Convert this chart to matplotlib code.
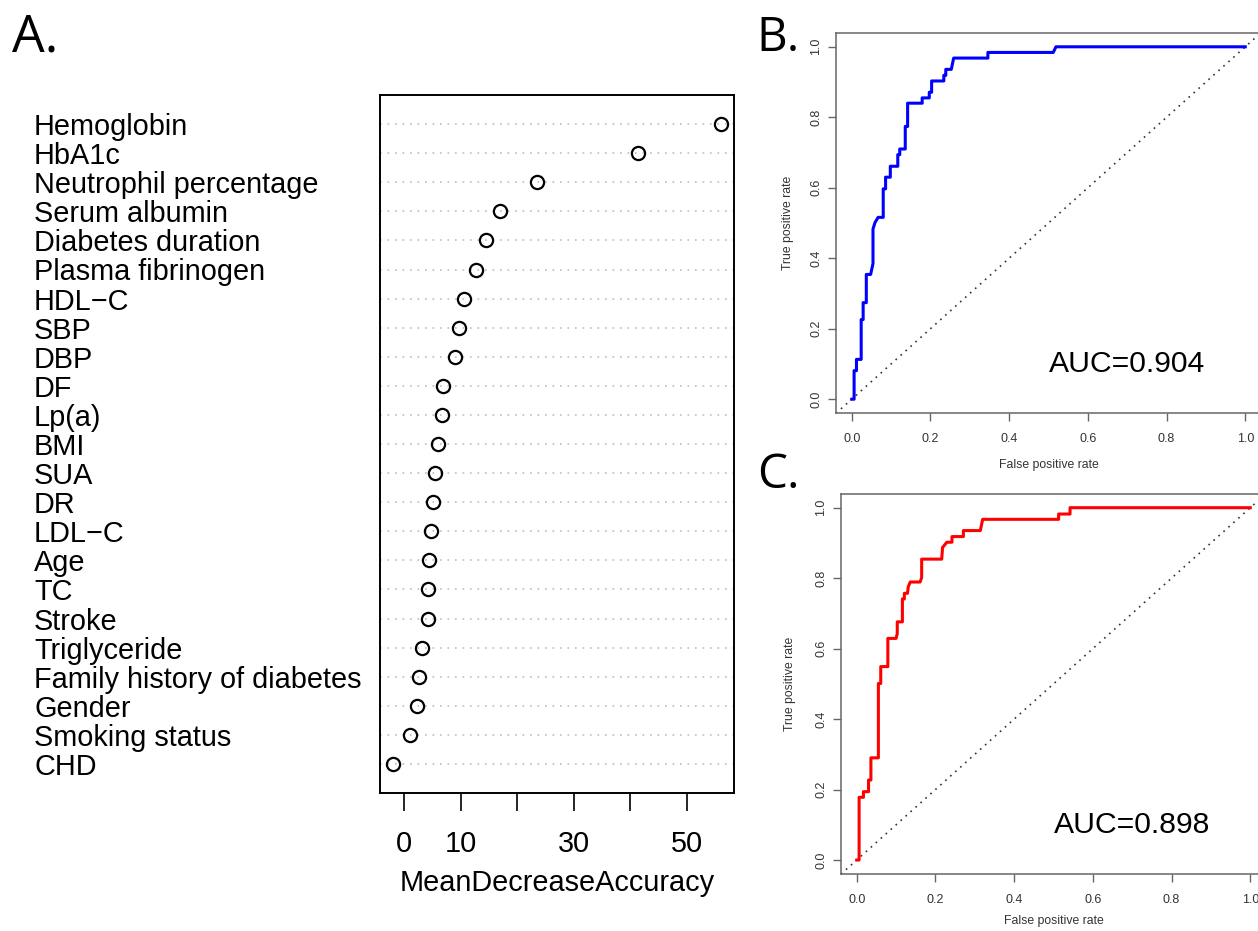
import matplotlib.pyplot as plt
import numpy as np

# ---- data ----
features = ["Hemoglobin", "HbA1c", "Neutrophil percentage", "Serum albumin",
            "Diabetes duration", "Plasma fibrinogen", "HDL\u2212C", "SBP", "DBP",
            "DF", "Lp(a)", "BMI", "SUA", "DR", "LDL\u2212C", "Age", "TC", "Stroke",
            "Triglyceride", "Family history of diabetes", "Gender",
            "Smoking status", "CHD"]
mda = [56.0, 41.4, 23.4, 16.9, 14.5, 12.6, 10.6, 9.6, 9.0,
       6.85, 6.7, 5.9, 5.4, 5.1, 4.7, 4.4, 4.25, 4.1,
       3.1, 2.5, 2.25, 0.95, -2.0]
mda_ticks = [0, 10, 20, 30, 40, 50]
mda_ticklabels = ["0", "10", "", "30", "", "50"]

# ROC curve vertices, panel B (training)
fpr_b = [0, 0.006, 0.006, 0.012, 0.012, 0.024, 0.024, 0.029, 0.029, 0.037, 0.037,
         0.048, 0.054, 0.054, 0.059, 0.067, 0.080, 0.080, 0.086, 0.086, 0.098, 0.098,
         0.117, 0.117, 0.122, 0.122, 0.136, 0.136, 0.142, 0.142, 0.179, 0.179, 0.197,
         0.197, 0.203, 0.203, 0.234, 0.234, 0.239, 0.239, 0.253, 0.259, 0.346, 0.346,
         0.512, 0.519, 1.0]
tpr_b = [0, 0, 0.081, 0.081, 0.113, 0.113, 0.226, 0.226, 0.274, 0.274, 0.354,
         0.354, 0.385, 0.483, 0.501, 0.516, 0.516, 0.597, 0.597, 0.630, 0.630, 0.661,
         0.661, 0.694, 0.694, 0.710, 0.710, 0.774, 0.774, 0.840, 0.840, 0.855, 0.855,
         0.871, 0.871, 0.903, 0.903, 0.919, 0.919, 0.936, 0.936, 0.968, 0.968, 0.984,
         0.984, 1.0, 1.0]
auc_b = "AUC=0.904"

# ROC curve vertices, panel C (validation)
fpr_c = [0, 0.006, 0.006, 0.017, 0.017, 0.030, 0.030, 0.036, 0.036, 0.055, 0.055,
         0.061, 0.061, 0.079, 0.079, 0.100, 0.103, 0.103, 0.116, 0.116, 0.121, 0.121,
         0.129, 0.131, 0.136, 0.161, 0.165, 0.165, 0.216, 0.218, 0.229, 0.242, 0.242,
         0.271, 0.271, 0.314, 0.320, 0.513, 0.513, 0.542, 0.542, 1.0]
tpr_c = [0, 0, 0.178, 0.178, 0.194, 0.194, 0.227, 0.227, 0.290, 0.290, 0.501,
         0.501, 0.549, 0.549, 0.629, 0.629, 0.643, 0.676, 0.676, 0.741, 0.741, 0.757,
         0.757, 0.776, 0.789, 0.789, 0.802, 0.854, 0.854, 0.887, 0.902, 0.902, 0.918,
         0.918, 0.935, 0.935, 0.967, 0.967, 0.982, 0.982, 1.0, 1.0]
auc_c = "AUC=0.898"

roc_ticks = [0.0, 0.2, 0.4, 0.6, 0.8, 1.0]

plt.rcParams['font.family'] = 'Liberation Sans'

W, H = 1258, 931
fig = plt.figure(figsize=(W / 100, H / 100), dpi=100)


def px_axes(left, top, right, bottom):
    return fig.add_axes([left / W, 1 - bottom / H, (right - left) / W, (bottom - top) / H])


# ---- A: dotchart ----
ax = px_axes(380, 95, 734.3, 793)
n = len(features)
rows = np.arange(n, 0, -1)
for r in rows:
    ax.axhline(r, color='#bebebe', lw=1.2, ls=(0, (1, 3.5)), zorder=1)
ax.plot(mda, rows, 'o', ms=9.5, mfc='none', mec='black', mew=1.6, zorder=3)
ax.set_xlim(-4.32, 58.37)
ax.set_ylim(0, n + 1)
ax.set_yticks(rows, labels=features, fontsize=20.8, ha='left')
ax.tick_params(axis='y', length=0, pad=346 * 0.72)
ax.set_xticks(mda_ticks, labels=mda_ticklabels, fontsize=20.8)
ax.tick_params(axis='x', length=13, width=1.2, pad=14)
ax.set_xlabel("MeanDecreaseAccuracy", fontsize=20.8)
ax.xaxis.set_label_coords(0.5, -0.129)
ax.xaxis.label.set_va('center')
for s in ax.spines.values():
    s.set_linewidth(1.4)

fig.text(12 / W, 1 - 51.7 / H, "A.", family='Open Sans', fontsize=37.3, va='baseline')


# ---- B and C: ROC curves ----
def roc_panel(axr, fpr, tpr, color, auc, xlab_y, ylab_x):
    axr.plot([-0.04, 1.04], [-0.04, 1.04], color='#333333', lw=1.2, ls=(0, (1, 3)))
    axr.plot(fpr, tpr, color=color, lw=2.2)
    axr.set_xlim(-0.04, 1.04)
    axr.set_ylim(-0.04, 1.04)
    axr.set_xticks(roc_ticks, labels=[f"{t:.1f}" for t in roc_ticks])
    axr.set_yticks(roc_ticks, labels=[f"{t:.1f}" for t in roc_ticks])
    for lab in axr.get_yticklabels():
        lab.set_rotation(90)
        lab.set_va('center')
    axr.tick_params(length=6, width=1, color='#666666', labelsize=9,
                    labelcolor='#333333')
    axr.tick_params(axis='x', pad=8)
    axr.tick_params(axis='y', pad=4)
    for s in axr.spines.values():
        s.set_color('#666666')
        s.set_linewidth(1.1)
    axr.set_xlabel("False positive rate", fontsize=8.8, color='#333333')
    axr.set_ylabel("True positive rate", fontsize=8.8, color='#333333')
    axr.xaxis.set_label_coords(0.5, xlab_y)
    axr.xaxis.label.set_va('center')
    axr.yaxis.set_label_coords(ylab_x, 0.5)
    axr.yaxis.label.set_va('center')
    axr.text(0.7, 0.1, auc, fontsize=21.7, ha='center', va='center')


axb = px_axes(836, 32.7, 1261, 413.3)
roc_panel(axb, fpr_b, tpr_b, '#0000ff', auc_b, -0.136, -0.113)
fig.text(756 / W, 1 - 50.7 / H, "B.", family='Open Sans', fontsize=34.3, va='baseline')

axc = px_axes(841, 493.6, 1266, 874.1)
roc_panel(axc, fpr_c, tpr_c, '#ff0000', auc_c, -0.123, -0.12)
fig.text(756.7 / W, 1 - 488.3 / H, "C.", family='Open Sans', fontsize=34.3, va='baseline')

fig.savefig("out.png", dpi=100)
